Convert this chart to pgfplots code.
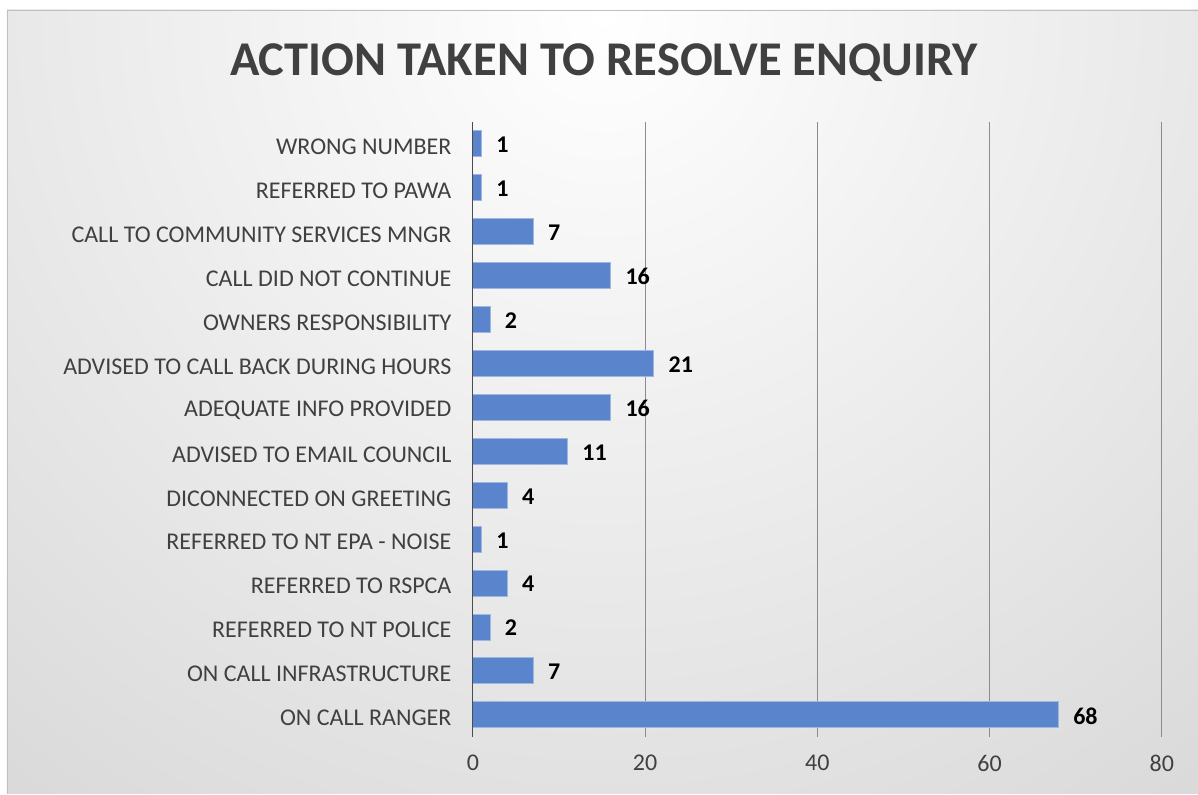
\documentclass[border=0pt]{standalone}
\usepackage{fontspec}
\setmainfont{Carlito}
\usepackage{pgfplots}
\pgfplotsset{compat=1.18}
\definecolor{barblue}{HTML}{5A84CB}
\definecolor{baredge}{HTML}{9DB6E2}
\definecolor{txtgray}{HTML}{404040}
\definecolor{edgegray}{HTML}{BEBEBE}
\definecolor{gridgray}{HTML}{8C8C8C}
\begin{document}
\begin{tikzpicture}[x=1pt,y=1pt]
\fill[white] (0,0) rectangle (1198,794);
\begin{scope}
\clip (7,0) rectangle (1198,784);
\shade[inner color=white, outer color=edgegray] (604,780) circle (1700);
\end{scope}
\draw[gray!50] (7,0) -- (7,784) -- (1198,784);
\node[font=\bfseries\fontsize{48.5}{54}\selectfont, text=txtgray] at (604,731) {ACTION TAKEN TO RESOLVE ENQUIRY};
\begin{axis}[
  at={(473pt,57pt)}, anchor=south west,
  scale only axis, width=689pt, height=615pt,
  xbar, bar width=26pt,
  xmin=0, xmax=80, ymin=-0.5, ymax=13.5,
  xtick={0,20,40,60,80},
  ytick={0,...,13},
  yticklabels={ON CALL RANGER, ON CALL INFRASTRUCTURE, REFERRED TO NT POLICE, REFERRED TO RSPCA, REFERRED TO NT EPA - NOISE, DICONNECTED ON GREETING, ADVISED TO EMAIL COUNCIL, ADEQUATE INFO PROVIDED, ADVISED TO CALL BACK DURING HOURS, OWNERS RESPONSIBILITY, CALL DID NOT CONTINUE, CALL TO COMMUNITY SERVICES MNGR, REFERRED TO PAWA, WRONG NUMBER},
  major tick length=0pt,
  axis line style={draw=none},
  xmajorgrids, grid style={gridgray, line width=1pt},
  /pgf/number format/assume math mode=true,
  tick label style={font=\fontsize{24}{27}\selectfont, text=txtgray},
  yticklabel style={xshift=-18pt, yshift=-3pt},
  xticklabel style={yshift=-15pt},
  nodes near coords,
  nodes near coords style={font=\bfseries\fontsize{24}{27}\selectfont, text=black, anchor=west, xshift=11pt, yshift=-1pt},
  clip=false,
]
\addplot[fill=barblue, draw=baredge, line width=1pt] coordinates {
(68,0) (7,1) (2,2) (4,3) (1,4) (4,5) (11,6) (16,7) (21,8) (2,9) (16,10) (7,11) (1,12) (1,13)
};
\draw[gray!60!black, line width=1pt] (axis cs:0,-0.5) -- (axis cs:0,13.5);
\end{axis}
\end{tikzpicture}
\end{document}
